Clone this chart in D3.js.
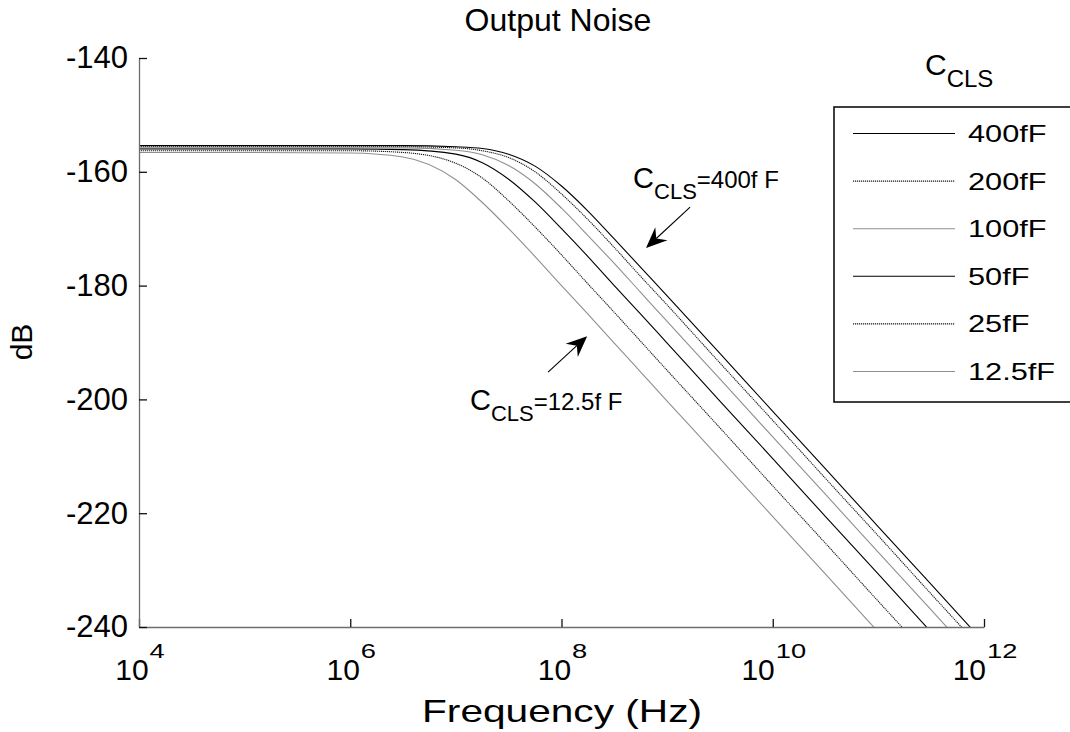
<!DOCTYPE html>
<html><head><meta charset="utf-8">
<script src="https://cdn.jsdelivr.net/npm/d3@7"></script>
<style>
body{margin:0;background:#fff}
text{font-family:"Liberation Sans",Arial,sans-serif;fill:#000}
</style>
</head><body>
<svg id="chart" width="1070" height="732"></svg>
<script>
// ---- data ----
const frequencies = [1e4,1e5,1e6,3.16e6,1e7,1.78e7,3.16e7,5.62e7,1e8,1.78e8,3.16e8,5.62e8,1e9,3.16e9,1e10,3.16e10,1e11,3.16e11,1e12];
const seriesNames = ["400fF","200fF","100fF","50fF","25fF","12.5fF"];
const db400  = [-155.4,-155.4,-155.4,-155.4,-155.6,-155.9,-156.9,-159.0,-162.5,-166.9,-171.8,-176.8,-181.8,-191.9,-202.1,-212.2,-222.4,-232.5,-242.7];
const db200  = [-155.6,-155.6,-155.6,-155.6,-155.8,-156.3,-157.5,-160.0,-163.9,-168.4,-173.3,-178.4,-183.4,-193.6,-203.7,-213.9,-224.0,-234.2,-244.3];
const db100  = [-155.8,-155.8,-155.8,-155.8,-156.2,-157.0,-158.9,-162.1,-166.4,-171.2,-176.1,-181.2,-186.3,-196.4,-206.6,-216.7,-226.9,-237.0,-247.2];
const db50   = [-156.0,-156.0,-156.0,-156.1,-156.9,-158.4,-161.3,-165.3,-170.0,-174.9,-180.0,-185.0,-190.1,-200.3,-210.4,-220.6,-230.7,-240.9,-251.0];
const db25   = [-156.3,-156.3,-156.3,-156.6,-158.5,-161.1,-165.1,-169.7,-174.6,-179.7,-184.7,-189.8,-194.9,-205.0,-215.2,-225.3,-235.5,-245.6,-255.8];
const db12_5 = [-156.6,-156.6,-156.7,-157.4,-161.4,-165.4,-170.0,-174.9,-180.0,-185.0,-190.1,-195.2,-200.3,-210.4,-220.6,-230.7,-240.9,-251.0,-261.1];
const xTickValues = [1e4,1e6,1e8,1e10,1e12];
const xTickExponents = ["4","6","8","10","12"];
const yTickValues = [-140,-160,-180,-200,-220,-240];
const chartTitle = "Output Noise";
const xLabel = "Frequency (Hz)";
const yLabel = "dB";
// annotations
const annoLabels = ["=400f F","=12.5f F"];
const annoTextF  = [4.76e8, 1.36e7];
const annoTextDb = [-162.9, -201.9];
const annoTailF  = [1.65e9, 7.46e7];
const annoTailDb = [-166.2, -195.2];
const annoTipF   = [6.31e8, 1.75e8];
const annoTipDb  = [-173.4, -188.9];

// ---- styles ----
const colors = ["#000","#1a1a1a","#8f8f8f","#000","#1a1a1a","#8f8f8f"];
const dashes = [null,"1.2,0.8",null,null,"1.2,0.8",null];

const seriesValues = [db400,db200,db100,db50,db25,db12_5];
const svg = d3.select("#chart");
const x = d3.scaleLog().domain([1e4,1e12]).range([139,984]);
const y = d3.scaleLinear().domain([-240,-140]).range([627,58]);

svg.append("defs").append("clipPath").attr("id","plotclip")
  .append("rect").attr("x",139).attr("y",58).attr("width",845).attr("height",569);

// lines
const line = d3.line().x((d,i)=>x(frequencies[i])).y(d=>y(d)).curve(d3.curveMonotoneX);
const lg = svg.append("g").attr("clip-path","url(#plotclip)");
seriesValues.forEach((vals,k)=>{
  lg.append("path").attr("d",line(vals)).attr("fill","none")
    .attr("stroke",colors[k]).attr("stroke-width",1.1)
    .attr("stroke-dasharray",dashes[k]);
});

// axes
const xAxis = d3.axisBottom(x).tickValues(xTickValues).tickSize(-8).tickSizeOuter(0).tickFormat("");
const gx = svg.append("g").attr("transform","translate(0,627)").call(xAxis);
gx.selectAll(".tick").each(function(d,i){
  const g=d3.select(this);
  const base=g.append("text").attr("text-anchor","start").attr("font-size",30).attr("y",53).text("10");
  const sup=g.append("text").attr("text-anchor","start").attr("font-size",21).text(xTickExponents[i]);
  const wb=base.node().getComputedTextLength();
  const ws=sup.node().getComputedTextLength()*1.3;
  const start=-(wb+ws)/2;
  base.attr("x",start);
  sup.attr("transform",`translate(${start+wb+1},31) scale(1.3,1)`);
});
const yAxis = d3.axisLeft(y).tickValues(yTickValues).tickSize(-8).tickSizeOuter(0).tickPadding(11)
  .tickFormat(d=>String(d));
const gy = svg.append("g").attr("transform","translate(139,0)").call(yAxis);
gy.selectAll(".tick text").attr("font-size",31).attr("fill","#000");
[gx,gy].forEach(g=>{
  g.select(".domain").attr("stroke","#6e6e6e").attr("stroke-width",1.3);
  g.selectAll(".tick line").attr("stroke","#111").attr("stroke-width",1.3);
});

// title and axis labels
svg.append("text").attr("x",558).attr("y",31).attr("text-anchor","middle").attr("font-size",32).text(chartTitle);
svg.append("text").attr("transform","translate(562,722) scale(1.27,1)").attr("text-anchor","middle").attr("font-size",32).text(xLabel);
svg.append("text").attr("transform","translate(32,342) rotate(-90)").attr("text-anchor","middle").attr("font-size",30).text(yLabel);

// annotations
annoLabels.forEach((lab,i)=>{
  const tx=x(annoTextF[i]), ty=y(annoTextDb[i]);
  const t=svg.append("text").attr("x",tx).attr("y",ty).attr("font-size",29);
  t.append("tspan").text("C");
  t.append("tspan").attr("font-size",22).attr("dy",11).text("CLS");
  t.append("tspan").attr("font-size",24).attr("dy",-11).text(lab);
  const x0=x(annoTailF[i]), y0=y(annoTailDb[i]), x1=x(annoTipF[i]), y1=y(annoTipDb[i]);
  const dx=x1-x0, dy=y1-y0, L=Math.hypot(dx,dy), ux=dx/L, uy=dy/L, px=-uy, py=ux;
  const hl=21, hw=9, notch=14;
  svg.append("line").attr("x1",x0).attr("y1",y0).attr("x2",x1-ux*notch).attr("y2",y1-uy*notch)
    .attr("stroke","#000").attr("stroke-width",1.1);
  svg.append("path").attr("fill","#000")
    .attr("d",`M${x1},${y1}L${x1-ux*hl+px*hw},${y1-uy*hl+py*hw}L${x1-ux*notch},${y1-uy*notch}L${x1-ux*hl-px*hw},${y1-uy*hl-py*hw}Z`);
});

// legend
const lgx=834, lgy=107;
svg.append("rect").attr("x",lgx).attr("y",lgy).attr("width",260).attr("height",295)
  .attr("fill","#fff").attr("stroke","#000").attr("stroke-width",1.5);
const lt=svg.append("text").attr("x",925).attr("y",75).attr("font-size",30);
lt.append("tspan").text("C");
lt.append("tspan").attr("font-size",24).attr("dy",12).text("CLS");
seriesNames.forEach((nm,k)=>{
  const ly = lgy + 26.5 + k*47.6;
  svg.append("line").attr("x1",853).attr("x2",955).attr("y1",ly).attr("y2",ly)
    .attr("stroke",colors[k]).attr("stroke-width",1.1).attr("stroke-dasharray",dashes[k]);
  svg.append("text").attr("transform",`translate(968,${ly+8.5}) scale(1.28,1)`)
    .attr("font-size",24).text(nm);
});
</script>
</body></html>
